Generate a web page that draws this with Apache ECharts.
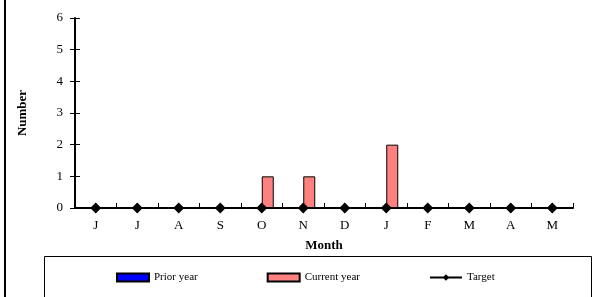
<!DOCTYPE html>
<html>
<head>
<meta charset="utf-8">
<script src="https://cdn.jsdelivr.net/npm/echarts@6/dist/echarts.min.js"></script>
<style>
    html, body { margin: 0; padding: 0; background: #fff; }
    #main { width: 596px; height: 297px; }
</style>
</head>
<body>
<div id="main"></div>
<script>
var months = ['J', 'J', 'A', 'S', 'O', 'N', 'D', 'J', 'F', 'M', 'A', 'M'];
var priorYear = [0, 0, 0, 0, 0, 0, 0, 0, 0, 0, 0, 0];
var currentYear = [0, 0, 0, 0, 1, 1, 0, 2, 0, 0, 0, 0];
var target = [0, 0, 0, 0, 0, 0, 0, 0, 0, 0, 0, 0];

var font = 'Liberation Serif';
var myChart = echarts.init(document.getElementById('main'));
var option = {
    animation: false,
    textStyle: { fontFamily: font },
    grid: { left: 75, right: 23, top: 18, bottom: 89 },
    // outer frame pieces: left border + legend box
    graphic: [
        { type: 'rect', shape: { x: 4, y: -2, width: 2, height: 302 }, style: { fill: '#000' } },
        { type: 'rect', shape: { x: 44.5, y: 256.5, width: 547, height: 50 }, style: { fill: 'none', stroke: '#000', lineWidth: 1 } }
    ],
    legend: {
        left: 116,
        top: 272,
        padding: 0,
        itemWidth: 32,
        itemHeight: 8,
        itemGap: 69,
        textStyle: { fontFamily: font, fontSize: 11, color: '#000' },
        data: [
            { name: 'Prior year', icon: 'rect' },
            { name: 'Current year', icon: 'rect' },
            'Target'
        ]
    },
    xAxis: [{
        type: 'category',
        data: months,
        name: 'Month',
        nameLocation: 'middle',
        nameGap: 31,
        nameTextStyle: { fontFamily: font, fontSize: 13, fontWeight: 'bold', color: '#000' },
        axisLine: { lineStyle: { color: '#000', width: 2 } },
        axisTick: { length: 5, lineStyle: { color: '#000', width: 1 } },
        axisLabel: { fontFamily: font, fontSize: 13, color: '#000', margin: 11 },
        splitLine: { show: false }
    }, {
        // copy of the axis, only for the upper half of the crossing ticks
        type: 'category',
        data: months,
        position: 'bottom',
        axisLine: { show: true, onZero: false, lineStyle: { color: 'rgba(0,0,0,0)' } },
        axisTick: { show: true, inside: true, length: 5, lineStyle: { color: '#000', width: 1 } },
        axisLabel: { show: false },
        splitLine: { show: false }
    }],
    yAxis: [{
        type: 'value',
        min: 0,
        max: 6,
        interval: 1,
        name: 'Number',
        nameLocation: 'middle',
        nameGap: 46,
        nameTextStyle: { fontFamily: font, fontSize: 13, fontWeight: 'bold', color: '#000' },
        axisLine: { show: true, lineStyle: { color: '#000', width: 2 } },
        axisTick: { show: true, length: 5, lineStyle: { color: '#000', width: 1 } },
        axisLabel: { fontFamily: font, fontSize: 13, color: '#000', margin: 12 },
        splitLine: { show: false }
    }, {
        type: 'value',
        min: 0,
        max: 6,
        interval: 1,
        position: 'left',
        offset: -5,
        axisLine: { show: true, onZero: false, lineStyle: { color: 'rgba(0,0,0,0)' } },
        axisTick: { show: true, length: 5, lineStyle: { color: '#000', width: 1 } },
        axisLabel: { show: false },
        splitLine: { show: false }
    }],
    series: [{
        name: 'Prior year',
        type: 'bar',
        data: priorYear,
        barWidth: 12,
        barGap: '0%',
        itemStyle: { color: '#0000FF', borderColor: '#000', borderWidth: 1 }
    }, {
        name: 'Current year',
        type: 'bar',
        data: currentYear,
        barWidth: 12,
        barGap: '0%',
        itemStyle: { color: '#FF8080', borderColor: '#000', borderWidth: 1 }
    }, {
        name: 'Target',
        type: 'line',
        data: target,
        z: 5,
        symbol: 'diamond',
        symbolSize: 11,
        lineStyle: { color: '#000', width: 2 },
        itemStyle: { color: '#000' }
    }]
};
myChart.setOption(option);
</script>
</body>
</html>
